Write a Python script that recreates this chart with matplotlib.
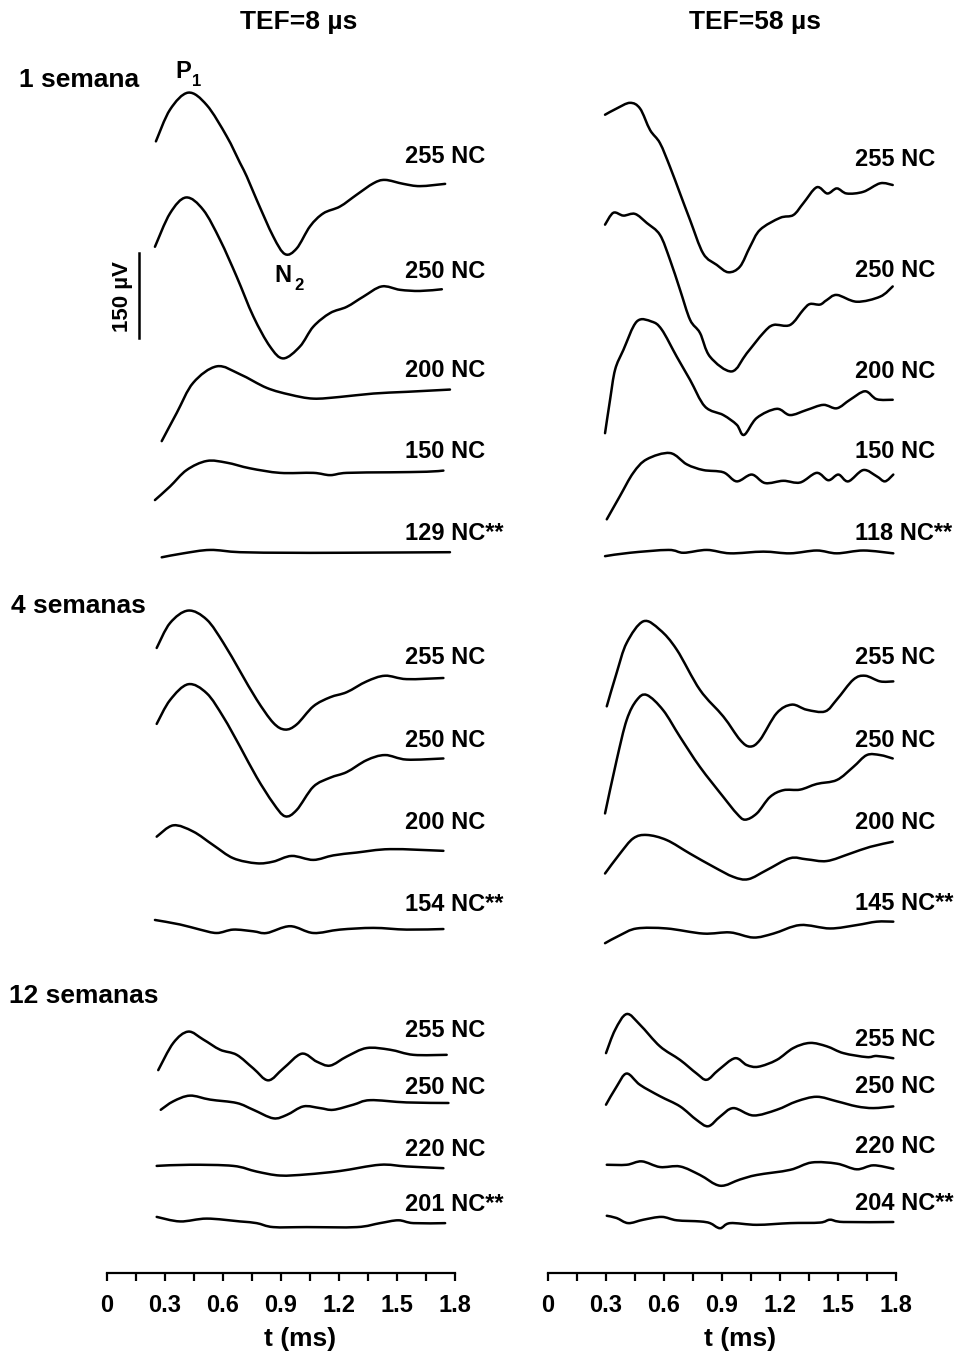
import matplotlib
matplotlib.use("Agg")
import matplotlib.pyplot as plt
from matplotlib.path import Path
from matplotlib.patches import PathPatch
import numpy as np

plt.rcParams['font.family'] = ['Liberation Sans', 'DejaVu Sans']
plt.rcParams['font.weight'] = 'bold'

# ---------------------------------------------------------------------------
# Evoked responses (time in ms, amplitude in µV relative to the trace baseline)
# TEF = 8 µs
# ---------------------------------------------------------------------------
# 1 semana
T8_W1_255_T = [0.253, 0.326, 0.420, 0.516, 0.619, 0.688, 0.723, 0.774, 0.860, 0.921,
               0.981, 1.050, 1.119, 1.205, 1.292, 1.378, 1.438, 1.533, 1.619, 1.749]
T8_W1_255_UV = [75, 131, 161, 139, 84, 37, 13, -28, -93, -124,
                -114, -75, -52, -40, -19, 1, 7, 0, -4, 0]
T8_W1_250_T = [0.248, 0.326, 0.409, 0.498, 0.585, 0.671, 0.757, 0.843, 0.912, 0.998,
               1.067, 1.154, 1.240, 1.326, 1.421, 1.516, 1.619, 1.732]
T8_W1_250_UV = [75, 134, 162, 140, 87, 22, -48, -101, -122, -101,
                -66, -42, -31, -13, 5, -1, -3, 0]
T8_W1_200_T = [0.283, 0.361, 0.446, 0.568, 0.688, 0.826, 0.947, 1.067, 1.205, 1.378, 1.550, 1.774]
T8_W1_200_UV = [-91, -41, 12, 41, 27, 3, -9, -16, -13, -7, -4, 0]
T8_W1_150_T = [0.248, 0.326, 0.412, 0.516, 0.619, 0.740, 0.895, 1.067, 1.154, 1.240, 1.464, 1.654, 1.740]
T8_W1_150_UV = [-52, -28, 1, 17, 14, 4, -4, -4, -8, -4, -3, -2, 0]
T8_W1_129_T = [0.283, 0.395, 0.533, 0.688, 0.947, 1.205, 1.774]
T8_W1_129_UV = [-9, -2, 4, 0, -1, -1, 0]
# 4 semanas
T8_W4_255_T = [0.257, 0.326, 0.420, 0.516, 0.602, 0.688, 0.774, 0.860, 0.921, 0.981,
               1.067, 1.154, 1.240, 1.343, 1.438, 1.550, 1.740]
T8_W4_255_UV = [53, 97, 119, 103, 62, 12, -38, -79, -91, -82, -50, -34, -25, -6, 4, -2, 0]
T8_W4_250_T = [0.257, 0.326, 0.420, 0.516, 0.602, 0.688, 0.774, 0.860, 0.921, 0.981,
               1.067, 1.154, 1.240, 1.343, 1.438, 1.550, 1.740]
T8_W4_250_UV = [61, 103, 131, 115, 73, 21, -33, -79, -102, -91, -50, -34, -24, -3, 6, -2, 0]
T8_W4_200_T = [0.257, 0.343, 0.446, 0.550, 0.653, 0.774, 0.860, 0.955, 1.067, 1.171, 1.292, 1.464, 1.740]
T8_W4_200_UV = [25, 45, 34, 10, -13, -22, -19, -9, -16, -8, -3, 3, 0]
T8_W4_154_T = [0.248, 0.378, 0.481, 0.568, 0.653, 0.757, 0.826, 0.947, 1.067, 1.205, 1.378, 1.550, 1.740]
T8_W4_154_UV = [16, 8, -1, -7, -1, -4, -7, 5, -7, -1, 2, -1, 0]
# 12 semanas
T8_W12_255_T = [0.265, 0.343, 0.420, 0.498, 0.585, 0.671, 0.757, 0.834, 0.912, 1.007,
                1.085, 1.154, 1.240, 1.343, 1.464, 1.585, 1.757]
T8_W12_255_UV = [-27, 21, 41, 27, 9, 0, -24, -45, -24, 2, -12, -19, -3, 12, 9, 0, 0]
T8_W12_250_T = [0.278, 0.343, 0.429, 0.533, 0.671, 0.757, 0.860, 0.930, 1.016, 1.102,
                1.171, 1.274, 1.361, 1.550, 1.766]
T8_W12_250_UV = [-12, 3, 13, 6, 0, -12, -27, -21, -6, -9, -12, -3, 5, 1, 0]
T8_W12_220_T = [0.257, 0.429, 0.653, 0.774, 0.895, 1.033, 1.205, 1.412, 1.550, 1.740]
T8_W12_220_UV = [4, 6, 4, -6, -13, -11, -5, 6, 3, 0]
T8_W12_201_T = [0.257, 0.378, 0.516, 0.688, 0.774, 0.860, 1.033, 1.292, 1.412, 1.507, 1.585, 1.749]
T8_W12_201_UV = [11, 3, 8, 3, 0, -7, -7, -7, 0, 5, 0, 0]

# ---------------------------------------------------------------------------
# TEF = 58 µs
# ---------------------------------------------------------------------------
# 1 semana
T58_W1_255_T = [0.295, 0.355, 0.424, 0.476, 0.528, 0.579, 0.631, 0.683, 0.735, 0.803,
                0.873, 0.933, 0.993, 1.045, 1.097, 1.200, 1.269, 1.321, 1.390, 1.445,
                1.494, 1.545, 1.631, 1.718, 1.783]
T58_W1_255_UV = [124, 135, 145, 135, 97, 74, 32, -15, -62, -121,
                 -141, -154, -144, -109, -79, -58, -53, -32, -4, -15,
                 -6, -15, -12, 3, 0]
T58_W1_250_T = [0.295, 0.338, 0.390, 0.450, 0.511, 0.579, 0.631, 0.683, 0.735, 0.786,
                0.838, 0.950, 1.028, 1.114, 1.166, 1.252, 1.321, 1.355, 1.407, 1.442,
                1.494, 1.597, 1.718, 1.783]
T58_W1_250_UV = [109, 130, 125, 128, 112, 91, 47, -6, -59, -82,
                 -124, -150, -118, -82, -68, -68, -41, -31, -32, -24,
                 -15, -27, -18, 0]
T58_W1_200_T = [0.295, 0.321, 0.347, 0.390, 0.459, 0.536, 0.588, 0.666, 0.735, 0.812,
                0.907, 0.976, 1.014, 1.080, 1.183, 1.252, 1.338, 1.424, 1.494, 1.562,
                1.640, 1.700, 1.783]
T58_W1_200_UV = [-59, 0, 53, 88, 138, 138, 124, 76, 35, -12,
                 -27, -44, -62, -32, -16, -27, -18, -9, -15, 0,
                 15, 1, 0]
T58_W1_150_T = [0.304, 0.372, 0.441, 0.511, 0.631, 0.718, 0.803, 0.907, 0.976, 1.054,
                1.123, 1.217, 1.304, 1.390, 1.450, 1.502, 1.553, 1.631, 1.700, 1.743, 1.786]
T58_W1_150_UV = [-79, -38, 3, 27, 38, 18, 8, 4, -12, 0,
                 -15, -11, -14, 3, -10, 0, -12, 8, -3, -12, 0]
T58_W1_118_T = [0.295, 0.424, 0.623, 0.701, 0.822, 0.942, 1.114, 1.252, 1.390, 1.494, 1.631, 1.786]
T58_W1_118_UV = [-5, 1, 6, 1, 6, 0, 3, 0, 5, 0, 5, 0]
# 4 semanas
T58_W4_255_T = [0.304, 0.355, 0.407, 0.493, 0.579, 0.666, 0.786, 0.907, 0.993, 1.045,
                1.097, 1.183, 1.261, 1.338, 1.433, 1.494, 1.579, 1.640, 1.718, 1.786]
T58_W4_255_UV = [-44, 15, 68, 106, 91, 56, -15, -62, -103, -115,
                 -103, -56, -41, -50, -53, -32, 3, 10, 0, 0]
T58_W4_250_T = [0.295, 0.355, 0.407, 0.459, 0.511, 0.596, 0.683, 0.786, 0.907, 0.976,
                1.019, 1.080, 1.148, 1.217, 1.304, 1.390, 1.494, 1.579, 1.649, 1.718, 1.783]
T58_W4_250_UV = [-97, -3, 68, 103, 112, 85, 38, -15, -68, -97,
                 -108, -97, -68, -56, -55, -45, -38, -15, 6, 6, 0]
T58_W4_200_T = [0.295, 0.372, 0.441, 0.511, 0.614, 0.735, 0.855, 0.959, 1.036, 1.131,
                1.252, 1.338, 1.442, 1.562, 1.666, 1.783]
T58_W4_200_UV = [-56, -21, 6, 12, 3, -21, -44, -62, -66, -50, -29, -31, -34, -21, -9, 0]
T58_W4_145_T = [0.295, 0.372, 0.459, 0.614, 0.803, 0.942, 1.062, 1.166, 1.304, 1.459, 1.597, 1.700, 1.786]
T58_W4_145_UV = [-38, -24, -12, -12, -21, -19, -28, -21, -6, -12, -6, 0, 0]
# 12 semanas
T58_W12_255_T = [0.300, 0.347, 0.407, 0.476, 0.579, 0.683, 0.769, 0.821, 0.881, 0.967,
                 1.028, 1.088, 1.183, 1.269, 1.355, 1.442, 1.528, 1.649, 1.700, 1.786]
T58_W12_255_UV = [9, 50, 78, 59, 21, -3, -27, -38, -21, 0,
                  -12, -15, -3, 18, 27, 21, 9, 2, 4, 0]
T58_W12_250_T = [0.300, 0.355, 0.407, 0.476, 0.579, 0.683, 0.769, 0.829, 0.890, 0.959,
                 1.062, 1.183, 1.287, 1.390, 1.494, 1.597, 1.683, 1.786]
T58_W12_250_UV = [3, 35, 58, 38, 18, 0, -24, -35, -18, -3, -16, -6, 9, 17, 9, 0, -3, 0]
T58_W12_220_T = [0.304, 0.407, 0.485, 0.579, 0.683, 0.786, 0.890, 0.993, 1.080, 1.252,
                 1.364, 1.494, 1.597, 1.683, 1.786]
T58_W12_220_UV = [7, 7, 13, 3, 4, -11, -30, -19, -11, -2, 11, 9, -1, 6, 0]
T58_W12_204_T = [0.304, 0.355, 0.415, 0.493, 0.588, 0.666, 0.786, 0.838, 0.890, 0.942,
                 1.080, 1.252, 1.407, 1.459, 1.528, 1.786]
T58_W12_204_UV = [11, 7, -2, 4, 9, 3, 1, -2, -11, -2, -5, -2, -1, 4, 0, 0]

# Trace labels (stimulus amplitude) top to bottom
LABELS_8 = ["255 NC", "250 NC", "200 NC", "150 NC", "129 NC**",
            "255 NC", "250 NC", "200 NC", "154 NC**",
            "255 NC", "250 NC", "220 NC", "201 NC**"]
LABELS_58 = ["255 NC", "250 NC", "200 NC", "150 NC", "118 NC**",
             "255 NC", "250 NC", "200 NC", "145 NC**",
             "255 NC", "250 NC", "220 NC", "204 NC**"]

GROUPS = ["1 semana", "4 semanas", "12 semanas"]
TITLES = ["TEF=8 µs", "TEF=58 µs"]
SCALE_UV = 150

TRACES_8 = [(T8_W1_255_T, T8_W1_255_UV), (T8_W1_250_T, T8_W1_250_UV),
            (T8_W1_200_T, T8_W1_200_UV), (T8_W1_150_T, T8_W1_150_UV),
            (T8_W1_129_T, T8_W1_129_UV),
            (T8_W4_255_T, T8_W4_255_UV), (T8_W4_250_T, T8_W4_250_UV),
            (T8_W4_200_T, T8_W4_200_UV), (T8_W4_154_T, T8_W4_154_UV),
            (T8_W12_255_T, T8_W12_255_UV), (T8_W12_250_T, T8_W12_250_UV),
            (T8_W12_220_T, T8_W12_220_UV), (T8_W12_201_T, T8_W12_201_UV)]
TRACES_58 = [(T58_W1_255_T, T58_W1_255_UV), (T58_W1_250_T, T58_W1_250_UV),
             (T58_W1_200_T, T58_W1_200_UV), (T58_W1_150_T, T58_W1_150_UV),
             (T58_W1_118_T, T58_W1_118_UV),
             (T58_W4_255_T, T58_W4_255_UV), (T58_W4_250_T, T58_W4_250_UV),
             (T58_W4_200_T, T58_W4_200_UV), (T58_W4_145_T, T58_W4_145_UV),
             (T58_W12_255_T, T58_W12_255_UV), (T58_W12_250_T, T58_W12_250_UV),
             (T58_W12_220_T, T58_W12_220_UV), (T58_W12_204_T, T58_W12_204_UV)]

# ---------------------------------------------------------------------------
# Layout: vertical stacking offsets (µV above the time axis) and label gaps (px)
# ---------------------------------------------------------------------------
OFFSETS_8 = [1922, 1736, 1559, 1416, 1272, 1050, 908, 745, 607, 385, 300, 185, 88]
OFFSETS_58 = [1920, 1741, 1541, 1409, 1270, 1044, 908, 761, 620, 379, 294, 184, 90]
GAP_8 = [27, 18, 19, 19, 19, 20, 18, 28, 25, 24, 16, 19, 19]
GAP_58 = [26, 16, 28, 23, 20, 24, 18, 19, 18, 19, 20, 22, 18]

W, H = 962, 1356
AXIS_Y = 1273          # pixel row of the time axis
UV_PER_PX = 150 / 85.0
fig = plt.figure(figsize=(W / 100, H / 100), dpi=100)


def fpos(x, y):
    return x / W, 1 - y / H


def smooth_path(x, y):
    """Cubic Bezier path passing through every sample (Catmull-Rom tangents)."""
    p = np.column_stack([x, y]).astype(float)
    n = len(p)
    verts = [p[0]]
    codes = [Path.MOVETO]
    for i in range(n - 1):
        p0 = p[i - 1] if i > 0 else p[i]
        p1, p2 = p[i], p[i + 1]
        p3 = p[i + 2] if i + 2 < n else p[i + 1]
        c1 = p1 + (p2 - p0) / 6.0
        c2 = p2 - (p3 - p1) / 6.0
        verts += [c1, c2, p2]
        codes += [Path.CURVE4] * 3
    return Path(verts, codes)


def make_axes(x0):
    ax = fig.add_axes([x0 / W, (H - AXIS_Y) / H, 348 / W, AXIS_Y / H])
    ax.set_xlim(0, 1.8)
    ax.set_ylim(0, AXIS_Y * UV_PER_PX)
    ax.patch.set_alpha(0)
    for s in ("top", "right", "left"):
        ax.spines[s].set_visible(False)
    ax.spines["bottom"].set_linewidth(1.6)
    ticks = np.round(np.arange(0, 1.8001, 0.15), 2)
    ax.set_xticks(ticks)
    ax.set_xticklabels(["0" if v == 0 else (f"{v:.1f}" if i % 2 == 0 else "")
                        for i, v in enumerate(ticks)])
    ax.tick_params(axis="x", direction="out", length=6, width=1.6,
                   labelsize=17, pad=9)
    ax.set_yticks([])
    return ax


def draw_panel(ax, traces, offsets, labels, gaps, t_label):
    for (t, uv), off, lab, gap in zip(traces, offsets, labels, gaps):
        path = smooth_path(t, np.asarray(uv) + off)
        ax.add_patch(PathPatch(path, facecolor="none", edgecolor="black",
                               lw=1.8, capstyle="round", joinstyle="round",
                               clip_on=False))
        ax.annotate(lab, xy=(t_label, off), xytext=(0, gap * 0.72),
                    textcoords="offset points", ha="left", va="center",
                    fontsize=17, fontweight="bold")


ax8 = make_axes(107)
ax58 = make_axes(548)
draw_panel(ax8, TRACES_8, OFFSETS_8, LABELS_8, GAP_8, 1.542)
draw_panel(ax58, TRACES_58, OFFSETS_58, LABELS_58, GAP_58, 1.588)

# scale bar
bar_top = (AXIS_Y - 253) * UV_PER_PX
ax8.plot([0.166, 0.166], [bar_top - SCALE_UV, bar_top], color="black", lw=1.8,
         clip_on=False)
fig.text(*fpos(123, 297), f"{SCALE_UV} µV", rotation=90, ha="center", va="center",
         fontsize=16, fontweight="bold")

# column titles and time-axis labels
fig.text(*fpos(299, 22), TITLES[0], ha="center", va="center", fontsize=19, fontweight="bold")
fig.text(*fpos(755, 22), TITLES[1], ha="center", va="center", fontsize=19, fontweight="bold")
fig.text(*fpos(300, 1339), "t (ms)", ha="center", va="center", fontsize=19, fontweight="bold")
fig.text(*fpos(740, 1339), "t (ms)", ha="center", va="center", fontsize=19, fontweight="bold")

# age groups
for name, (gx, gy) in zip(GROUPS, [(19, 80), (11, 606), (9, 996)]):
    fig.text(*fpos(gx, gy), name, ha="left", va="center", fontsize=19, fontweight="bold")

# peak markers
fig.text(*fpos(175, 71), "P", ha="left", va="center", fontsize=17, fontweight="bold")
fig.text(*fpos(192, 82), "1", ha="left", va="center", fontsize=12, fontweight="bold")
fig.text(*fpos(274, 276), "N", ha="left", va="center", fontsize=17, fontweight="bold")
fig.text(*fpos(294, 286), "2", ha="left", va="center", fontsize=12, fontweight="bold")

fig.savefig("out.png", dpi=100, facecolor="white")
